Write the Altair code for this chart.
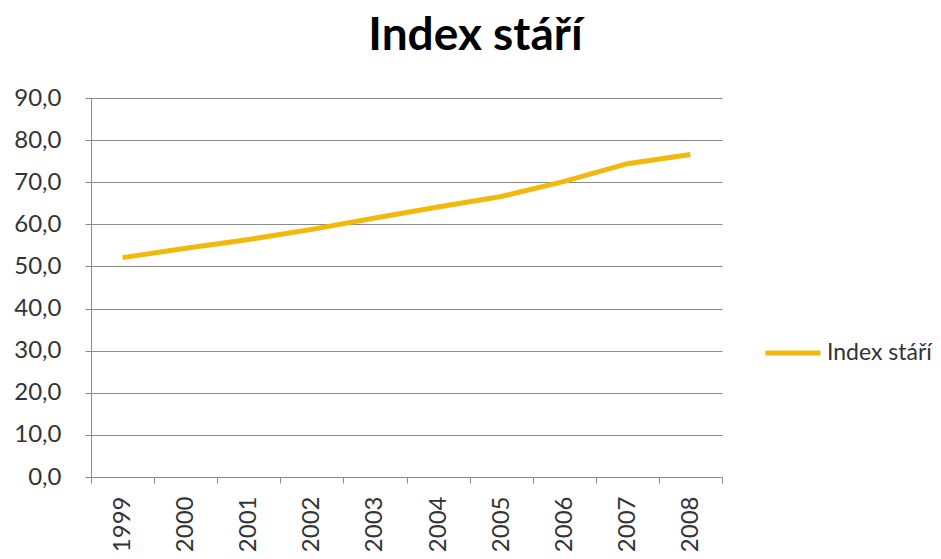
import altair as alt
import pandas as pd

years = ["1999", "2000", "2001", "2002", "2003", "2004", "2005", "2006", "2007", "2008"]
values = [52.1, 54.3, 56.4, 58.8, 61.5, 64.1, 66.6, 70.2, 74.4, 76.6]
series_name = "Index stáří"
y_ticks = [0, 10, 20, 30, 40, 50, 60, 70, 80, 90]

df = pd.DataFrame({"rok": years, "hodnota": values, "serie": [series_name] * len(years)})

FONT = "Lato"
GRID = "#8a8a8a"
TEXT = "#333333"

chart = alt.Chart(df).mark_line(strokeWidth=5).encode(
    x=alt.X(
        "rok:O",
        bandPosition=0.5,
        scale=alt.Scale(type="band", paddingInner=0, paddingOuter=0),
        axis=alt.Axis(
            title=None, labelAngle=-90, tickBand="extent", grid=False,
            labelFont=FONT, labelFontSize=24, labelColor=TEXT, labelPadding=13,
            tickSize=6, tickColor=GRID, domainColor=GRID,
        ),
    ),
    y=alt.Y(
        "hodnota:Q",
        scale=alt.Scale(domain=[0, 90], nice=False, zero=True),
        axis=alt.Axis(
            title=None, values=y_ticks,
            labelExpr="replace(format(datum.value, '.1f'), '.', ',')",
            labelFont=FONT, labelFontSize=24, labelColor=TEXT, labelPadding=24,
            tickSize=6, tickColor=GRID, domainColor=GRID, gridColor=GRID,
        ),
    ),
    color=alt.Color(
        "serie:N",
        scale=alt.Scale(domain=[series_name], range=["#F2B90C"]),
        legend=alt.Legend(
            title=None, orient="none", legendX=672, legendY=225,
            symbolType="stroke", symbolSize=3025, symbolStrokeWidth=5,
            labelFont=FONT, labelFontSize=23, labelColor=TEXT, labelOffset=4,
        ),
    ),
).properties(
    width=631,
    height=379,
    title=alt.TitleParams(
        "Index stáří", font=FONT, fontSize=46, fontWeight="bold", color="#000000",
        anchor="middle", dx=69, offset=26,
    ),
    autosize=alt.AutoSizeParams(type="none"),
    padding={"left": 83, "top": 90, "right": 211, "bottom": 74},
).configure_view(stroke=None)

chart.save("out.html", embed_options={"renderer": "svg", "actions": False})
